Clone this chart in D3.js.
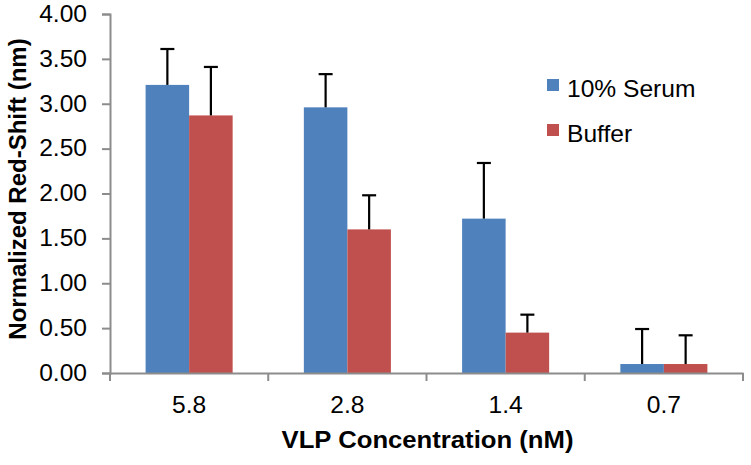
<!DOCTYPE html>
<html><head><meta charset="utf-8">
<script src="https://cdn.jsdelivr.net/npm/d3@7"></script>
<style>body{margin:0;background:#fff}svg{display:block}text{font-family:"Liberation Sans",Arial,sans-serif}</style>
</head><body><svg id="c" width="751" height="465"></svg>
<script>
const categories = ["5.8", "2.8", "1.4", "0.7"];
const seriesNames = ["10% Serum", "Buffer"];
const serumValues = [3.21, 2.96, 1.72, 0.10];
const serumErrors = [0.40, 0.37, 0.62, 0.39];
const bufferValues = [2.87, 1.60, 0.45, 0.10];
const bufferErrors = [0.54, 0.38, 0.20, 0.32];
const yTicks = [0, 0.5, 1, 1.5, 2, 2.5, 3, 3.5, 4];
const colors = ["#4F81BD", "#C0504D"];

const svg = d3.select("#c");
const m = {l: 110, r: 743, t: 14, b: 373};
const sx = 1.07; // slight horizontal text stretch
const x = d3.scaleBand().domain(categories).range([m.l, m.r]).paddingInner(0).paddingOuter(0);
const x1 = d3.scaleBand().domain(seriesNames).range([0, x.bandwidth()]).paddingInner(0).paddingOuter(0.818);
const y = d3.scaleLinear().domain([0, 4]).range([m.b, m.t]);
const axisColor = "#8c8c8c";

const seriesData = [
  {name: seriesNames[0], vals: serumValues, errs: serumErrors, color: colors[0]},
  {name: seriesNames[1], vals: bufferValues, errs: bufferErrors, color: colors[1]}
];

// bars
seriesData.forEach(s => {
  const g = svg.append("g");
  g.selectAll("rect").data(categories).join("rect")
    .attr("x", (c) => x(c) + x1(s.name))
    .attr("y", (c, i) => y(s.vals[i]))
    .attr("width", x1.bandwidth())
    .attr("height", (c, i) => y(0) - y(s.vals[i]))
    .attr("fill", s.color);
});
// error bars
seriesData.forEach(s => {
  const g = svg.append("g").attr("stroke", "#000").attr("stroke-width", 2.2);
  categories.forEach((c, i) => {
    const cx = x(c) + x1(s.name) + x1.bandwidth() / 2;
    const top = y(s.vals[i] + s.errs[i]);
    g.append("line").attr("x1", cx).attr("x2", cx).attr("y1", y(s.vals[i])).attr("y2", top);
    g.append("line").attr("x1", cx - 7).attr("x2", cx + 7).attr("y1", top).attr("y2", top);
  });
});

// y axis
const ya = svg.append("g").attr("transform", `translate(${m.l},0)`)
  .call(d3.axisLeft(y).tickValues(yTicks).tickFormat(d3.format(".2f")).tickSize(8).tickPadding(15));
ya.select(".domain").attr("stroke", axisColor).attr("stroke-width", 2);
ya.selectAll(".tick line").attr("stroke", axisColor).attr("stroke-width", 2);
ya.selectAll(".tick text").attr("font-size", 23).attr("fill", "#000")
  .attr("font-family", "Liberation Sans, Arial, sans-serif")
  .attr("transform", `translate(-23,0) scale(${sx},1) translate(23,0)`);

// x axis
const xa = svg.append("g").attr("transform", `translate(0,${m.b})`)
  .call(d3.axisBottom(x).tickSize(0).tickPadding(24));
xa.select(".domain").attr("stroke", axisColor).attr("stroke-width", 2);
xa.selectAll(".tick text").attr("font-size", 23).attr("fill", "#000")
  .attr("font-family", "Liberation Sans, Arial, sans-serif")
  .attr("transform", `scale(${sx},1)`);
const bounds = categories.map(c => x(c)).concat([m.r]);
svg.append("g").selectAll("line").data(bounds).join("line")
  .attr("x1", d => d).attr("x2", d => d).attr("y1", m.b).attr("y2", m.b + 8)
  .attr("stroke", axisColor).attr("stroke-width", 2);

// titles
const cxT = (m.l + m.r) / 2 + 1;
svg.append("text").attr("transform", `translate(${cxT},448) scale(${sx},1)`).attr("text-anchor", "middle")
  .attr("font-size", 24).attr("font-weight", "bold").text("VLP Concentration (nM)");
svg.append("text").attr("transform", `translate(26,189) rotate(-90)`).attr("text-anchor", "middle")
  .attr("font-size", 24).attr("font-weight", "bold").text("Normalized Red-Shift (nm)");

// legend
const lg = svg.append("g").attr("transform", "translate(547,79)");
seriesData.forEach((s, i) => {
  lg.append("rect").attr("x", 0).attr("y", i * 45).attr("width", 12).attr("height", 12).attr("fill", s.color);
  lg.append("text").attr("transform", `translate(20,${i * 45 + 18}) scale(${sx},1)`).attr("font-size", 23).text(s.name);
});
</script></body></html>
